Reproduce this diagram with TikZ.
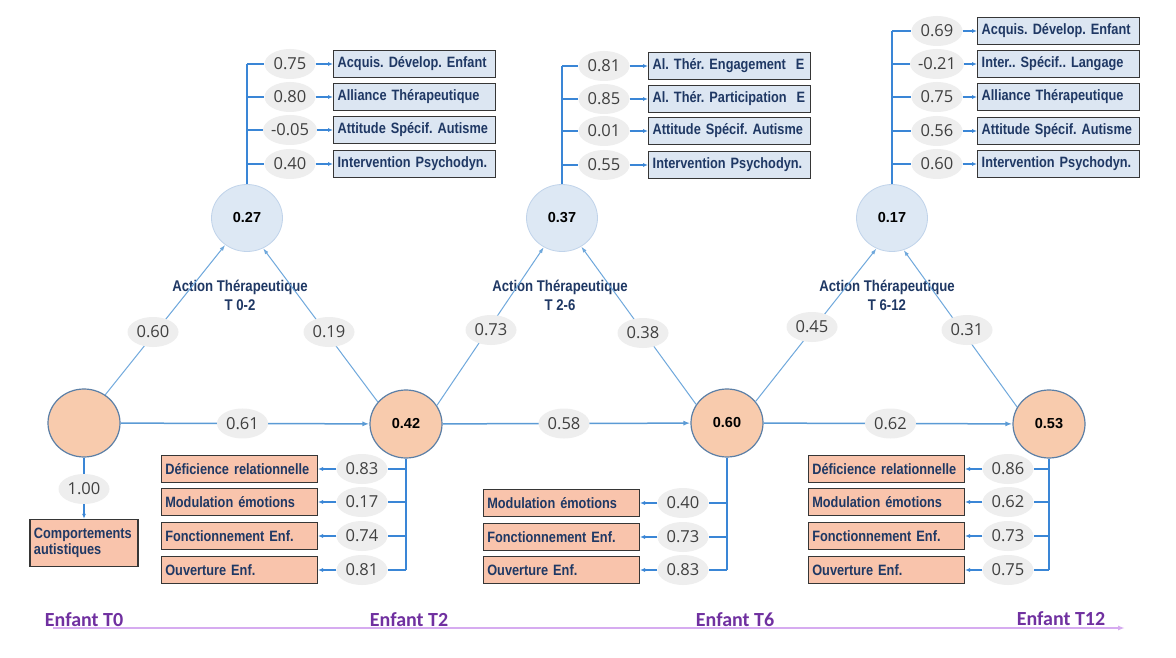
\documentclass[tikz,border=0pt]{standalone}
\usepackage{fontspec}
\newfontfamily\nar[FakeStretch=0.85]{Liberation Sans}
\newfontfamily\opsans{Open Sans}
\newfontfamily\arl{Liberation Sans}
\newfontfamily\carfont{Carlito}
\usetikzlibrary{arrows.meta,shapes.geometric}
\definecolor{orfill}{HTML}{F8CBAD}
\definecolor{orborder}{HTML}{5B7FA6}
\definecolor{blfill}{HTML}{DDE8F4}
\definecolor{blborder}{HTML}{C0D3EA}
\definecolor{orbox}{HTML}{F9C4AC}
\definecolor{blbox}{HTML}{DCE6F2}
\definecolor{boxline}{HTML}{363636}
\definecolor{navy}{HTML}{1F3864}
\definecolor{valfill}{HTML}{EEEEEE}
\definecolor{valtext}{HTML}{404040}
\definecolor{spinec}{HTML}{3A86D6}
\definecolor{diagc}{HTML}{6FA8DC}
\definecolor{horc}{HTML}{5B9BD5}
\definecolor{purp}{HTML}{7030A0}
\definecolor{purpline}{HTML}{D6ABF0}
\tikzset{
  lat/.style={ellipse, fill=valfill, inner sep=0pt, minimum width=51pt, minimum height=30pt,
    font=\opsans\fontsize{16.5}{18}\selectfont, text=valtext},
  ocirc/.style={ellipse, fill=orfill, draw=orborder, line width=1.2pt, minimum width=72pt,
    minimum height=68pt, inner sep=0pt, font=\arl\bfseries\fontsize{14.5}{16}\selectfont},
  bcirc/.style={ellipse, fill=blfill, draw=blborder, line width=0.8pt, minimum width=71pt,
    minimum height=67pt, inner sep=0pt, font=\arl\bfseries\fontsize{14.5}{16}\selectfont},
  bbox/.style={draw=boxline, line width=1.4pt, fill=blbox, minimum height=27pt, text width=154pt,
    inner xsep=4pt, inner ysep=0pt, align=left, font=\nar\bfseries\fontsize{15}{17}\selectfont, text=navy},
  obox/.style={bbox, fill=orbox, text width=148pt},
  actlab/.style={align=center, font=\nar\bfseries\fontsize{15.5}{19}\selectfont, text=navy},
  tlab/.style={font=\carfont\bfseries\fontsize{20}{22}\selectfont, text=purp},
  spine/.style={draw=spinec, line width=1.3pt},
  sarr/.style={spine, -{Latex[length=5pt,width=4pt]}},
  diag/.style={draw=diagc, line width=1pt, -{Latex[length=6pt,width=4pt]}},
  hor/.style={draw=horc, line width=1.5pt, -{Latex[length=7pt,width=5pt]}},
}
\begin{document}
\frenchspacing
\begin{tikzpicture}[x=1pt,y=-1pt]
\useasboundingbox[fill=white] (0,0) rectangle (1176,658);

% main latent nodes
\node[ocirc] (T0) at (84,423) {};
\node[ocirc] (T2) at (406,424) {0.42};
\node[ocirc] (T6) at (727,423) {0.60};
\node[ocirc] (T12) at (1049,424) {0.53};
\node[bcirc] (C1) at (247,218) {0.27};
\node[bcirc] (C2) at (562,218) {0.37};
\node[bcirc] (C3) at (892,218) {0.17};

% action labels
\node[actlab] (A1) at (240,295) {Action Thérapeutique\\T 0-2};
\node[actlab] (A2) at (560,295) {Action Thérapeutique\\T 2-6};
\node[actlab] (A3) at (887,295) {Action Thérapeutique\\T 6-12};

% horizontal paths
\draw[hor] (T0) -- node[lat, pos=0.49] (h1) {0.61} (T2);
\draw[hor] (T2) -- node[lat, pos=0.49] (h2) {0.58} (T6);
\draw[hor] (T6) -- node[lat, pos=0.51] (h3) {0.62} (T12);

% diagonal paths
\draw[diag] (T0.53) -- (C1.231);
\draw[diag] (T2.142) -- (C1.298);
\draw[diag] (T2.31) -- (C2.238);
\draw[diag] (T6.149) -- (C2.304);
\draw[diag] (T6.37) -- (C3.243);
\draw[diag] (T12.152) -- (C3.290);
\node[lat] (d1) at (153,332) {0.60};
\node[lat] (d2) at (329,332) {0.19};
\node[lat] (d3) at (491,330) {0.73};
\node[lat] (d4) at (643,333) {0.38};
\node[lat] (d5) at (812,327) {0.45};
\node[lat] (d6) at (967,330) {0.31};

% cluster 1 (top)
\node[bbox, anchor=west] (a1) at (333,64) {Acquis. Dévelop. Enfant};
\node[bbox, anchor=west] (a2) at (333,97) {Alliance Thérapeutique};
\node[bbox, anchor=west] (a3) at (333,130) {Attitude Spécif. Autisme};
\node[bbox, anchor=west] (a4) at (333,164) {Intervention Psychodyn.};
\node[lat] (va1) at (290,64) {0.75};
\node[lat] (va2) at (290,97) {0.80};
\node[lat] (va3) at (290,130) {-0.05};
\node[lat] (va4) at (290,164) {0.40};
\draw[spine] (C1.north) -- (C1.north |- va1);
\foreach \i in {1,...,4}{
  \draw[spine] (C1.north |- va\i) -- (va\i.west);
  \draw[sarr] (va\i.east) -- (a\i.west);
}

% cluster 2 (top)
\node[bbox, anchor=west] (b1) at (648,66) {Al. Thér. Engagement\ \ E};
\node[bbox, anchor=west] (b2) at (648,99) {Al. Thér. Participation\ \ E};
\node[bbox, anchor=west] (b3) at (648,131) {Attitude Spécif. Autisme};
\node[bbox, anchor=west] (b4) at (648,165) {Intervention Psychodyn.};
\node[lat] (vb1) at (604,66) {0.81};
\node[lat] (vb2) at (604,99) {0.85};
\node[lat] (vb3) at (604,131) {0.01};
\node[lat] (vb4) at (604,165) {0.55};
\draw[spine] (C2.north) -- (C2.north |- vb1);
\foreach \i in {1,...,4}{
  \draw[spine] (C2.north |- vb\i) -- (vb\i.west);
  \draw[sarr] (vb\i.east) -- (b\i.west);
}

% cluster 3 (top)
\node[bbox, anchor=west] (c1) at (977,31) {Acquis. Dévelop. Enfant};
\node[bbox, anchor=west] (c2) at (977,64) {Inter.. Spécif.. Langage};
\node[bbox, anchor=west] (c3) at (977,97) {Alliance Thérapeutique};
\node[bbox, anchor=west] (c4) at (977,131) {Attitude Spécif. Autisme};
\node[bbox, anchor=west] (c5) at (977,164) {Intervention Psychodyn.};
\node[lat] (vc1) at (937,31) {0.69};
\node[lat] (vc2) at (937,64) {-0.21};
\node[lat] (vc3) at (937,97) {0.75};
\node[lat] (vc4) at (937,131) {0.56};
\node[lat] (vc5) at (937,164) {0.60};
\draw[spine] (C3.north) -- (C3.north |- vc1);
\foreach \i in {1,...,5}{
  \draw[spine] (C3.north |- vc\i) -- (vc\i.west);
  \draw[sarr] (vc\i.east) -- (c\i.west);
}

% T0 indicator
\node[obox, text width=100pt, minimum height=47pt, align=left] (ca) at (84,543) {Comportements\\[-1pt]autistiques};
\node[lat] (v0) at (84,489) {1.00};
\draw[spine] (T0.south) -- (v0.north);
\draw[sarr] (v0.south) -- (ca.north);

% T2 indicators
\node[obox, anchor=east] (e1) at (318,469) {Déficience relationnelle};
\node[obox, anchor=east] (e2) at (318,502) {Modulation émotions};
\node[obox, anchor=east] (e3) at (318,536) {Fonctionnement Enf.};
\node[obox, anchor=east] (e4) at (318,570) {Ouverture Enf.};
\node[lat] (ve1) at (362,469) {0.83};
\node[lat] (ve2) at (362,502) {0.17};
\node[lat] (ve3) at (362,536) {0.74};
\node[lat] (ve4) at (362,570) {0.81};
\draw[spine] (T2.south) -- (T2.south |- ve4);
\foreach \i in {1,...,4}{
  \draw[spine] (T2.south |- ve\i) -- (ve\i.east);
  \draw[sarr] (ve\i.west) -- (e\i.east);
}

% T6 indicators
\node[obox, anchor=east] (f1) at (640,503) {Modulation émotions};
\node[obox, anchor=east] (f2) at (640,537) {Fonctionnement Enf.};
\node[obox, anchor=east] (f3) at (640,570) {Ouverture Enf.};
\node[lat] (vf1) at (683,503) {0.40};
\node[lat] (vf2) at (683,537) {0.73};
\node[lat] (vf3) at (683,570) {0.83};
\draw[spine] (T6.south) -- (T6.south |- vf3);
\foreach \i in {1,...,3}{
  \draw[spine] (T6.south |- vf\i) -- (vf\i.east);
  \draw[sarr] (vf\i.west) -- (f\i.east);
}

% T12 indicators
\node[obox, anchor=east] (g1) at (965,469) {Déficience relationnelle};
\node[obox, anchor=east] (g2) at (965,502) {Modulation émotions};
\node[obox, anchor=east] (g3) at (965,536) {Fonctionnement Enf.};
\node[obox, anchor=east] (g4) at (965,570) {Ouverture Enf.};
\node[lat] (vg1) at (1008,469) {0.86};
\node[lat] (vg2) at (1008,502) {0.62};
\node[lat] (vg3) at (1008,536) {0.73};
\node[lat] (vg4) at (1008,570) {0.75};
\draw[spine] (T12.south) -- (T12.south |- vg4);
\foreach \i in {1,...,4}{
  \draw[spine] (T12.south |- vg\i) -- (vg\i.east);
  \draw[sarr] (vg\i.west) -- (g\i.east);
}

% timeline
\coordinate (tl0) at (53,628);
\coordinate (tl1) at (1125,628);
\draw[draw=purpline, line width=1.5pt, -{Latex[length=7pt,width=5pt]}] (tl0) -- (tl1);
\node[tlab] (n0) at (84,620) {Enfant T0};
\node[tlab] (n2) at (409,620) {Enfant T2};
\node[tlab] (n6) at (735,620) {Enfant T6};
\node[tlab] (n12) at (1061,619) {Enfant T12};
\end{tikzpicture}
\end{document}
